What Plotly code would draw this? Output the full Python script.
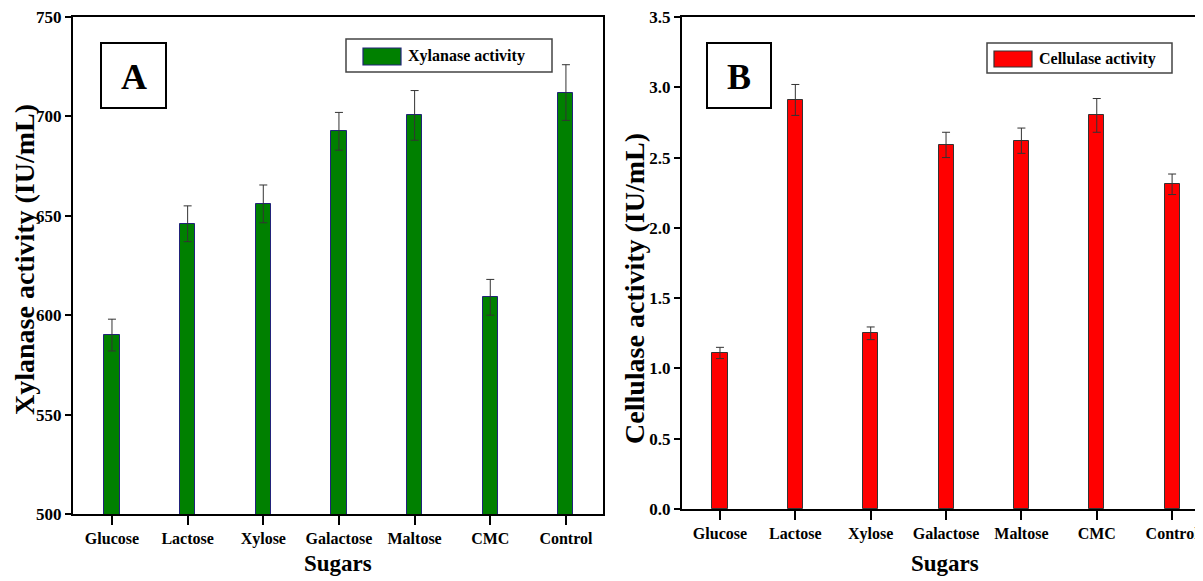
import plotly.graph_objects as go

# The page body adds an 8 px margin, so the figure is drawn 8 px smaller
OFF = 8
W, H = 1203 - OFF, 581 - OFF

sugars = ["Glucose", "Lactose", "Xylose", "Galactose", "Maltose", "CMC", "Control"]
xylanase = [590, 646, 656, 692.5, 700.5, 609, 712]
xylanase_err = [8, 9, 9.5, 9.5, 12.5, 9, 14]
cellulase = [1.11, 2.91, 1.25, 2.59, 2.62, 2.80, 2.31]
cellulase_err = [0.04, 0.11, 0.045, 0.09, 0.09, 0.12, 0.073]

FONT = "Liberation Serif"


def px(x):
    return (x - OFF) / W


def py(y):
    return 1 - (y - OFF) / H


fig = go.Figure()
fig.add_trace(go.Bar(
    x=sugars, y=xylanase, width=0.2, name="Xylanase activity",
    marker=dict(color="#008000", line=dict(color="#22237a", width=1)),
    error_y=dict(type="data", array=xylanase_err, visible=True,
                 color="#333333", thickness=1, width=4),
    xaxis="x", yaxis="y", showlegend=False,
))
fig.add_trace(go.Bar(
    x=sugars, y=cellulase, width=0.2, name="Cellulase activity",
    marker=dict(color="#ff0000", line=dict(color="#333333", width=1)),
    error_y=dict(type="data", array=cellulase_err, visible=True,
                 color="#333333", thickness=1, width=4),
    xaxis="x2", yaxis="y2", showlegend=False,
))

tickfont = dict(family=FONT, size=16, color="black", weight="bold")
ytickfont = dict(family=FONT, size=17, color="black", weight="bold")
common_x = dict(type="category", showgrid=False, zeroline=False,
                showline=True, linecolor="black", linewidth=2,
                ticks="outside", ticklen=9, tickwidth=1.5, tickcolor="black",
                tickfont=tickfont, automargin=False,
                ticklabeloverflow="allow")
common_y = dict(showgrid=False, zeroline=False, showline=True,
                linecolor="black", linewidth=2, ticks="outside", ticklen=6,
                tickwidth=1.5, tickcolor="black", tickfont=ytickfont,
                automargin=False, ticklabeloverflow="allow")

fig.update_layout(
    width=W, height=H,
    margin=dict(l=0, r=0, t=0, b=0),
    paper_bgcolor="white", plot_bgcolor="white",
    font=dict(family=FONT, color="black"),
    bargap=0,
    xaxis=dict(common_x, domain=[px(73), px(603)], range=[-0.515, 6.49],
               mirror=True, anchor="y"),
    yaxis=dict(common_y, domain=[py(514), py(17)], range=[500, 750],
               tickvals=[500, 550, 600, 650, 700, 750], mirror=True,
               anchor="x"),
    xaxis2=dict(common_x, domain=[px(682), 1.0], range=[-0.504, 6.41],
                mirror=True, anchor="y2"),
    yaxis2=dict(common_y, domain=[py(509), py(17)], range=[0, 3.5],
                tickvals=[0, 0.5, 1, 1.5, 2, 2.5, 3, 3.5], tickformat=".1f",
                mirror=False, anchor="x2"),
)

shapes = []
annotations = []

# Panel label boxes
for (x0, x1, y0, y1, txt) in [(101, 166, 43, 108, "A"), (707, 771, 43, 108, "B")]:
    shapes.append(dict(type="rect", xref="paper", yref="paper",
                       x0=px(x0), x1=px(x1), y0=py(y1), y1=py(y0),
                       line=dict(color="black", width=2), fillcolor="white"))
    annotations.append(dict(xref="paper", yref="paper", x=px((x0 + x1) / 2),
                            y=py((y0 + y1) / 2 + 2), text=txt, showarrow=False,
                            font=dict(family=FONT, size=36, color="black",
                                      weight="bold"),
                            xanchor="center", yanchor="middle"))

# Legend boxes
legends = [
    (346, 552, 39, 72, 363, 401, 48, 65, "#008000", "#22237a", 406, "Xylanase activity"),
    (987, 1172, 43, 73, 994, 1032, 51, 67, "#ff0000", "#333333", 1037, "Cellulase activity"),
]
for (bx0, bx1, by0, by1, sx0, sx1, sy0, sy1, col, lcol, tx, label) in legends:
    shapes.append(dict(type="rect", xref="paper", yref="paper",
                       x0=px(bx0), x1=px(bx1), y0=py(by1), y1=py(by0),
                       line=dict(color="#444444", width=1.5), fillcolor="white"))
    shapes.append(dict(type="rect", xref="paper", yref="paper",
                       x0=px(sx0), x1=px(sx1), y0=py(sy1), y1=py(sy0),
                       line=dict(color=lcol, width=1.2), fillcolor=col))
    annotations.append(dict(xref="paper", yref="paper", x=px(tx),
                            y=py((sy0 + sy1) / 2), text=label, showarrow=False,
                            font=dict(family=FONT, size=16, color="black",
                                      weight="bold"),
                            xanchor="left", yanchor="middle"))

# Axis titles
annotations.append(dict(xref="paper", yref="paper", x=px(24), y=py(260),
                        text="Xylanase activity (IU/mL)", textangle=-90,
                        showarrow=False,
                        font=dict(family=FONT, size=28, color="black", weight="bold"),
                        xanchor="center", yanchor="middle"))
annotations.append(dict(xref="paper", yref="paper", x=px(634), y=py(289),
                        text="Cellulase activity (IU/mL)", textangle=-90,
                        showarrow=False,
                        font=dict(family=FONT, size=28, color="black", weight="bold"),
                        xanchor="center", yanchor="middle"))
annotations.append(dict(xref="paper", yref="paper", x=px(338), y=py(563),
                        text="Sugars", showarrow=False,
                        font=dict(family=FONT, size=23, color="black", weight="bold"),
                        xanchor="center", yanchor="middle"))
annotations.append(dict(xref="paper", yref="paper", x=px(945), y=py(563),
                        text="Sugars", showarrow=False,
                        font=dict(family=FONT, size=23, color="black", weight="bold"),
                        xanchor="center", yanchor="middle"))

fig.update_layout(shapes=shapes, annotations=annotations)
fig.write_html("out.html")
